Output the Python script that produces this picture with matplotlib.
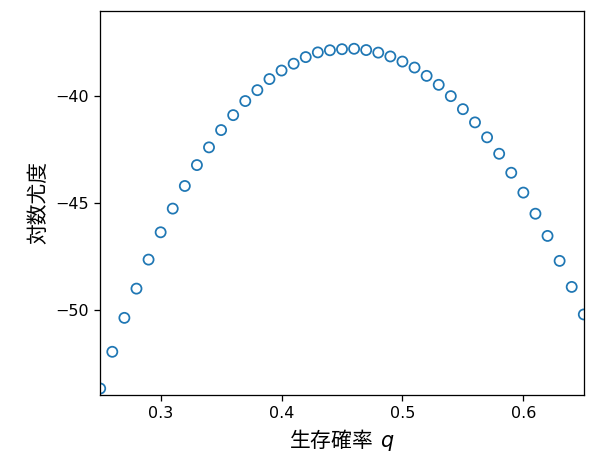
import numpy as np
import matplotlib.pyplot as plt

plt.rcParams['font.family'] = ['DejaVu Sans', 'Noto Sans CJK JP']

q = [0.25, 0.26, 0.27, 0.28, 0.29, 0.30, 0.31, 0.32, 0.33, 0.34,
     0.35, 0.36, 0.37, 0.38, 0.39, 0.40, 0.41, 0.42, 0.43, 0.44,
     0.45, 0.46, 0.47, 0.48, 0.49, 0.50, 0.51, 0.52, 0.53, 0.54,
     0.55, 0.56, 0.57, 0.58, 0.59, 0.60, 0.61, 0.62, 0.63, 0.64, 0.65]
loglik = [-53.70, -51.98, -50.39, -49.02, -47.66, -46.38, -45.27, -44.21, -43.23, -42.40,
          -41.59, -40.89, -40.23, -39.72, -39.20, -38.80, -38.48, -38.17, -37.95, -37.85,
          -37.80, -37.78, -37.84, -37.96, -38.14, -38.38, -38.66, -39.05, -39.47, -40.00,
          -40.61, -41.23, -41.93, -42.70, -43.59, -44.52, -45.51, -46.55, -47.72, -48.94,
          -50.23]

dpi = 115
fig = plt.figure(figsize=(600 / dpi, 469 / dpi), dpi=dpi)
ax = fig.add_axes([0.167, 0.158, 0.806, 0.819])
ax.scatter(q, loglik, s=40, facecolors='none', edgecolors='C0', linewidths=1.1)
ax.set_xlim(0.25, 0.65)
ax.set_ylim(-54.0, -36.0)
ax.set_xticks([0.3, 0.4, 0.5, 0.6])
ax.set_yticks([-50, -45, -40])
ax.set_xlabel('生存確率 $\\,q$', fontsize=13, family='Noto Sans CJK JP')
ax.set_ylabel('対数尤度', fontsize=13, family='Noto Sans CJK JP')

plt.savefig('out.png', dpi=dpi)
